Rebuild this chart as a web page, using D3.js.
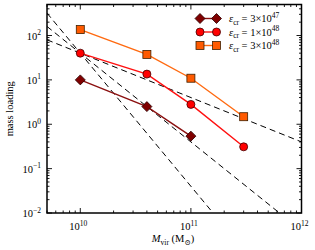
<!DOCTYPE html>
<html><head><meta charset="utf-8">
<script src="https://cdn.jsdelivr.net/npm/d3@7"></script>
<style>body{margin:0;background:#fff}svg{display:block}text{font-family:"Liberation Serif","DejaVu Serif",serif;fill:#000}</style>
</head><body>
<script>
// ---- data ----
const masses = [1e10, 4e10, 1e11, 3e11];
const seriesLow  = [10, 2.5, 0.54];        // eps_cr = 3e47
const seriesMid  = [40, 13.5, 2.8, 0.31];  // eps_cr = 1e48
const seriesHigh = [136, 37.5, 10.9, 1.48]; // eps_cr = 3e48
const seriesExp = ["47", "48", "48"];
const seriesMant = ["3", "1", "3"];
const guideSlopes = [-1, -2, -3];
const guideAnchorM = 1e10, guideAnchorY = 40;
const xTickVals = [1e10, 1e11, 1e12];
const xTickExp = ["10", "11", "12"];
const yTickVals = [1e-2, 1e-1, 1e0, 1e1, 1e2];
const yTickExp = ["\u22122", "\u22121", "0", "1", "2"];

const W = 315, H = 250;
const L = 47, R = 301.5, T = 4.5, B = 213;
const svg = d3.select("body").append("svg").attr("width", W).attr("height", H);
const x = d3.scaleLog().domain([5e9, 1e12]).range([L, R]);
const y = d3.scaleLog().domain([1e-2, 500]).range([B, T]);

svg.append("clipPath").attr("id", "clip").append("rect")
  .attr("x", L).attr("y", T).attr("width", R - L).attr("height", B - T);

// guide power laws
const gl = svg.append("g").attr("clip-path", "url(#clip)");
guideSlopes.forEach(s => {
  const pts = [5e9, 1e12].map(m => [m, guideAnchorY * Math.pow(m / guideAnchorM, s)]);
  gl.append("path").attr("d", d3.line().x(d => x(d[0])).y(d => y(d[1]))(pts))
    .attr("fill", "none").attr("stroke", "#000").attr("stroke-width", 1)
    .attr("stroke-dasharray", "6,4");
});

// series
const series = [
  {vals: seriesLow, color: "#800000", line: "#8b1010", shape: "diamond"},
  {vals: seriesMid, color: "#ff0000", line: "#ff1010", shape: "circle"},
  {vals: seriesHigh, color: "#ff5a00", line: "#ff6a10", shape: "square"}
];
function marker(g, shape, cx, cy, color) {
  if (shape === "diamond") {
    const r = 5;
    g.append("path").attr("d", `M${cx},${cy - r}L${cx + r},${cy}L${cx},${cy + r}L${cx - r},${cy}Z`)
      .attr("fill", color).attr("stroke", "#2a0000").attr("stroke-width", 0.8);
  } else if (shape === "circle") {
    g.append("circle").attr("cx", cx).attr("cy", cy).attr("r", 4)
      .attr("fill", color).attr("stroke", "#400000").attr("stroke-width", 0.8);
  } else {
    const r = 4;
    g.append("rect").attr("x", cx - r).attr("y", cy - r).attr("width", 2 * r).attr("height", 2 * r)
      .attr("fill", color).attr("stroke", "#402000").attr("stroke-width", 0.8);
  }
}
const sg = svg.append("g");
series.forEach(s => {
  const pts = s.vals.map((v, i) => [masses[i], v]);
  sg.append("path").attr("d", d3.line().x(d => x(d[0])).y(d => y(d[1]))(pts))
    .attr("fill", "none").attr("stroke", s.line).attr("stroke-width", 1.4);
  pts.forEach(p => marker(sg, s.shape, x(p[0]), y(p[1]), s.color));
});

// axes: ticks inward on all four sides
const ag = svg.append("g");
function minorTicks(domain) {
  const out = [];
  const lo = Math.floor(Math.log10(domain[0])), hi = Math.ceil(Math.log10(domain[1]));
  for (let e = lo; e <= hi; e++) for (let k = 1; k <= 9; k++) {
    const v = k * Math.pow(10, e);
    if (v >= domain[0] * 0.999 && v <= domain[1] * 1.001) out.push({v, major: k === 1});
  }
  return out;
}
minorTicks(x.domain()).forEach(t => {
  const len = t.major ? 5 : 2.5, px = x(t.v);
  ag.append("line").attr("x1", px).attr("x2", px).attr("y1", B).attr("y2", B - len).attr("stroke", "#000").attr("stroke-width", 0.9);
  ag.append("line").attr("x1", px).attr("x2", px).attr("y1", T).attr("y2", T + len).attr("stroke", "#000").attr("stroke-width", 0.9);
});
minorTicks(y.domain()).forEach(t => {
  const len = t.major ? 5 : 2.5, py = y(t.v);
  ag.append("line").attr("y1", py).attr("y2", py).attr("x1", L).attr("x2", L + len).attr("stroke", "#000").attr("stroke-width", 0.9);
  ag.append("line").attr("y1", py).attr("y2", py).attr("x1", R).attr("x2", R - len).attr("stroke", "#000").attr("stroke-width", 0.9);
});
ag.append("rect").attr("x", L).attr("y", T).attr("width", R - L).attr("height", B - T)
  .attr("fill", "none").attr("stroke", "#000").attr("stroke-width", 1.5);

// tick labels
xTickVals.forEach((v, i) => {
  const t = ag.append("text").attr("x", x(v) - 2).attr("y", B + 17).attr("text-anchor", "middle").attr("font-size", 10.5);
  t.append("tspan").text("10");
  t.append("tspan").attr("dy", -4.5).attr("font-size", 7.5).text(xTickExp[i]);
});
yTickVals.forEach((v, i) => {
  const t = ag.append("text").attr("x", 41).attr("y", y(v) + 4).attr("text-anchor", "end").attr("font-size", 10.5);
  t.append("tspan").text("10");
  t.append("tspan").attr("dy", -4.5).attr("font-size", 7.5).text(yTickExp[i]);
});

// axis titles
svg.append("text").attr("transform", `translate(13,${(T + B) / 2}) rotate(-90)`)
  .attr("text-anchor", "middle").attr("font-size", 10.5).text("mass loading");
const xl = svg.append("text").attr("x", 173).attr("y", 242).attr("text-anchor", "middle").attr("font-size", 10.5);
xl.append("tspan").attr("font-style", "italic").text("M");
xl.append("tspan").attr("dy", 2.5).attr("font-size", 7.5).text("vir");
xl.append("tspan").attr("dy", -2.5).text(" (M");
xl.append("tspan").attr("dy", 2.5).attr("font-size", 7.5).text("\u2299");
xl.append("tspan").attr("dy", -2.5).text(")");

// legend
const lg = svg.append("g");
const rowsY = [18.5, 32, 45.5];
series.forEach((s, i) => {
  const yy = rowsY[i];
  lg.append("line").attr("x1", 200).attr("x2", 216.5).attr("y1", yy).attr("y2", yy)
    .attr("stroke", s.line).attr("stroke-width", 1.4);
  marker(lg, s.shape, 200, yy, s.color);
  marker(lg, s.shape, 216.5, yy, s.color);
  const t = lg.append("text").attr("x", 229).attr("y", yy + 3.5).attr("font-size", 10.5);
  t.append("tspan").attr("font-style", "italic").text("\u03b5");
  t.append("tspan").attr("dy", 2.5).attr("font-size", 7.5).text("cr");
  t.append("tspan").attr("dy", -2.5).text(" = " + seriesMant[i] + "\u00d710");
  t.append("tspan").attr("dy", -4.5).attr("font-size", 7.5).text(seriesExp[i]);
});
</script>
</body></html>
